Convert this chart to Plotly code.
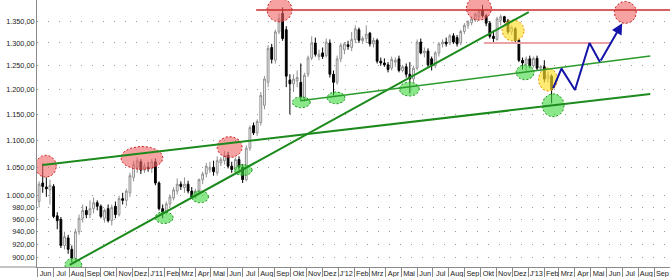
import numpy as np
import pandas as pd
import plotly.graph_objects as go

# ---------------- data (weekly candles, gold in EUR) ----------------
week_start = "2010-06-04"
opens = [990, 1022, 1015, 1010, 1016, 966, 960, 918, 930, 912,
         898, 940, 962, 975, 968, 978, 988, 982, 962, 978,
         958, 982, 968, 995, 992, 1005, 1032, 1050, 1060, 1045,
         1050, 1048, 1060, 1022, 978, 972, 986, 996, 1008, 1020,
         1014, 1020, 1008, 998, 1008, 1028, 1038, 1045, 1050, 1040,
         1058, 1062, 1072, 1052, 1046, 1064, 1050, 1028, 1085, 1128,
         1114, 1134, 1168, 1215, 1290, 1262, 1325, 1368, 1330, 1220,
         1212, 1218, 1215, 1182, 1232, 1267, 1300, 1270, 1278, 1272,
         1300, 1232, 1215, 1265, 1285, 1296, 1290, 1308, 1330, 1305,
         1310, 1322, 1298, 1306, 1260, 1256, 1252, 1245, 1258, 1265,
         1240, 1248, 1232, 1222, 1245, 1302, 1278, 1282, 1265, 1250,
         1278, 1298, 1302, 1300, 1316, 1312, 1300, 1326, 1340, 1346,
         1352, 1360, 1375, 1362, 1345, 1315, 1308, 1352, 1360, 1350,
         1325, 1332, 1306, 1262, 1254, 1265, 1250, 1266, 1245, 1248,
         1222, 1228]
highs = [1025, 1057, 1032, 1028, 1020, 972, 964, 940, 935, 918,
         945, 968, 985, 982, 992, 997, 992, 985, 978, 985,
         985, 990, 1000, 1005, 1012, 1040, 1062, 1068, 1065, 1058,
         1060, 1065, 1066, 1025, 985, 990, 1002, 1015, 1030, 1025,
         1032, 1026, 1015, 1012, 1030, 1042, 1058, 1060, 1062, 1070,
         1068, 1080, 1078, 1060, 1068, 1070, 1056, 1090, 1128, 1134,
         1140, 1195, 1228, 1295, 1298, 1330, 1368, 1382, 1338, 1232,
         1232, 1240, 1255, 1235, 1272, 1315, 1312, 1285, 1290, 1310,
         1308, 1240, 1272, 1300, 1302, 1305, 1325, 1340, 1335, 1315,
         1340, 1325, 1312, 1310, 1268, 1266, 1258, 1270, 1268, 1272,
         1252, 1255, 1258, 1250, 1308, 1310, 1290, 1288, 1270, 1282,
         1302, 1308, 1312, 1320, 1322, 1318, 1330, 1345, 1352, 1360,
         1370, 1378, 1388, 1366, 1350, 1328, 1360, 1365, 1362, 1355,
         1340, 1336, 1310, 1268, 1270, 1272, 1270, 1272, 1252, 1262,
         1238, 1232]
lows = [980, 1005, 998, 985, 962, 944, 914, 912, 905, 892,
        895, 935, 955, 962, 962, 970, 975, 962, 955, 955,
        950, 962, 965, 985, 982, 998, 1025, 1040, 1038, 1040,
        1042, 1040, 1018, 975, 962, 968, 980, 992, 1002, 1010,
        1005, 1004, 995, 995, 1002, 1020, 1032, 1040, 1035, 1035,
        1052, 1055, 1048, 1040, 1042, 1045, 1022, 1025, 1080, 1110,
        1108, 1128, 1160, 1205, 1255, 1255, 1320, 1305, 1205, 1150,
        1195, 1205, 1178, 1175, 1226, 1262, 1270, 1262, 1265, 1268,
        1225, 1188, 1210, 1258, 1275, 1285, 1282, 1300, 1300, 1298,
        1300, 1292, 1290, 1255, 1250, 1248, 1236, 1240, 1248, 1236,
        1236, 1225, 1192, 1215, 1240, 1275, 1268, 1245, 1240, 1245,
        1270, 1290, 1292, 1295, 1298, 1292, 1295, 1320, 1332, 1340,
        1348, 1352, 1358, 1338, 1310, 1302, 1305, 1340, 1345, 1320,
        1318, 1300, 1258, 1242, 1238, 1245, 1246, 1240, 1238, 1215,
        1215, 1172]
closes = [1020, 1016, 1012, 1018, 965, 958, 918, 932, 912, 898,
          940, 962, 975, 968, 978, 988, 982, 965, 975, 958,
          980, 968, 995, 992, 1008, 1035, 1055, 1062, 1045, 1052,
          1048, 1060, 1022, 978, 972, 986, 998, 1010, 1020, 1016,
          1020, 1008, 998, 1008, 1028, 1038, 1052, 1050, 1042, 1062,
          1064, 1072, 1052, 1046, 1064, 1050, 1028, 1085, 1124, 1114,
          1136, 1188, 1222, 1288, 1264, 1325, 1355, 1310, 1228, 1212,
          1222, 1225, 1185, 1230, 1267, 1300, 1275, 1275, 1270, 1302,
          1232, 1215, 1265, 1295, 1298, 1292, 1308, 1332, 1306, 1310,
          1320, 1298, 1306, 1260, 1256, 1252, 1242, 1264, 1262, 1240,
          1248, 1232, 1222, 1245, 1302, 1278, 1282, 1252, 1250, 1278,
          1298, 1302, 1298, 1316, 1302, 1298, 1326, 1340, 1348, 1355,
          1366, 1372, 1362, 1345, 1315, 1310, 1355, 1360, 1348, 1325,
          1335, 1306, 1262, 1256, 1265, 1250, 1266, 1245, 1248, 1222,
          1230, 1200]

y_ticks = [900, 920, 940, 960, 980, 1000, 1050, 1100, 1150, 1200, 1250, 1300, 1350]
y_tick_labels = ["900,00", "920,00", "940,00", "960,00", "980,00", "1.000,00", "1.050,00",
                 "1.100,00", "1.150,00", "1.200,00", "1.250,00", "1.300,00", "1.350,00"]

month_first = "2010-06-01"
month_last = "2013-09-01"
month_labels = ["Jun", "Jul", "Aug", "Sep", "Okt", "Nov", "Dez",
                "J'11", "Feb", "Mrz", "Apr", "Mai", "Jun", "Jul", "Aug", "Sep", "Okt", "Nov", "Dez",
                "J'12", "Feb", "Mrz", "Apr", "Mai", "Jun", "Jul", "Aug", "Sep", "Okt", "Nov", "Dez",
                "J'13", "Feb", "Mrz", "Apr", "Mai", "Jun", "Jul", "Aug", "Sep"]

# analysis markup (date, price)
red_zone_dates = ["2010-06-17", "2010-12-19", "2011-06-06", "2011-09-10", "2012-09-28", "2013-07-07"]
red_zone_prices = [1052, 1067, 1087, 1376, 1380, 1370]
green_zone_dates = ["2010-08-09", "2011-01-31", "2011-04-10", "2011-07-02", "2011-10-22",
                    "2011-12-28", "2012-05-17", "2012-12-26", "2013-02-18"]
green_zone_prices = [888, 963, 998, 1045, 1174, 1183, 1201, 1236, 1168]
yellow_zone_dates = ["2012-12-03", "2013-02-08"]
yellow_zone_prices = [1328, 1221]

long_support_dates = ["2010-06-11", "2013-08-24"]
long_support_prices = [1054, 1191]
steep_support_dates = ["2010-08-02", "2013-01-02"]
steep_support_prices = [888, 1371]
mid_support_dates = ["2011-10-20", "2013-08-24"]
mid_support_prices = [1177, 1271]
resistance_dates = ["2011-07-27", "2013-10-01"]
resistance_prices = [1376, 1376]
target_level_dates = ["2012-10-08", "2013-06-06"]
target_level_prices = [1300, 1300]
forecast_dates = ["2013-02-18", "2013-03-06", "2013-04-01", "2013-04-29", "2013-05-19", "2013-07-01"]
forecast_prices = [1203, 1244, 1199, 1300, 1258, 1345]

# ---------------- styling / geometry ----------------
W, H = 670, 277
ML, MB = 37, 10
X0, X1 = "2010-05-31", "2013-10-01"
Y0, Y1 = 884.7, 1399.6
PX_PER_DAY = (W - ML) / (pd.Timestamp(X1) - pd.Timestamp(X0)).days
PX_PER_LOG = (H - MB) / (np.log10(Y1) - np.log10(Y0))

red_radii = [(10.5, 11), (21, 11.5), (12.5, 10.5), (12.5, 12), (12.5, 12), (11, 11)]
green_radii = [(8.5, 6.5), (9, 6), (8.5, 6), (9, 5.5), (9, 5.5), (9, 6), (10, 7), (9, 7.5), (11, 11.5)]
yellow_radii = [(11, 10.5), (9.5, 11.5)]

FONT = "Liberation Sans"
dates = pd.date_range(week_start, periods=len(closes), freq="7D")
month_ticks = pd.date_range(month_first, month_last, freq="MS")

fig = go.Figure()
fig.add_trace(go.Candlestick(
    x=dates, open=opens, high=highs, low=lows, close=closes,
    increasing=dict(line=dict(color="#8f8f8f", width=1), fillcolor="#ffffff"),
    decreasing=dict(line=dict(color="#000000", width=1), fillcolor="#000000"),
    whiskerwidth=0, hoverinfo="skip", showlegend=False))

theta = np.linspace(0, 2 * np.pi, 61)


def add_ellipse(date, price, rad, fill, border):
    c = pd.Timestamp(date)
    xs = [c + pd.Timedelta(days=float(rad[0] * np.cos(t) / PX_PER_DAY)) for t in theta]
    ys = [10 ** (np.log10(price) + rad[1] * np.sin(t) / PX_PER_LOG) for t in theta]
    fig.add_trace(go.Scatter(x=xs, y=ys, mode="lines", fill="toself", fillcolor=fill,
                             line=dict(color=border, width=1, dash="2px,2px"),
                             hoverinfo="skip", showlegend=False))


for d, p, r in zip(red_zone_dates, red_zone_prices, red_radii):
    add_ellipse(d, p, r, "rgba(240,100,100,0.6)", "#c81e1e")
for d, p, r in zip(green_zone_dates, green_zone_prices, green_radii):
    add_ellipse(d, p, r, "rgba(60,215,60,0.6)", "#1f8f1f")
for d, p, r in zip(yellow_zone_dates, yellow_zone_prices, yellow_radii):
    add_ellipse(d, p, r, "rgba(255,225,40,0.65)", "#f08c00")


def add_line(ds, ps, color, width):
    fig.add_trace(go.Scatter(x=ds, y=ps, mode="lines", line=dict(color=color, width=width),
                             hoverinfo="skip", showlegend=False))


add_line(resistance_dates, resistance_prices, "#cc2b2b", 1.5)
add_line(target_level_dates, target_level_prices, "#eba3a8", 2)
add_line(long_support_dates, long_support_prices, "#1c8a1c", 2)
add_line(steep_support_dates, steep_support_prices, "#1c8a1c", 2)
add_line(mid_support_dates, mid_support_prices, "#2a9a2a", 1.5)
add_line(forecast_dates[:-1], forecast_prices[:-1], "#1414a8", 2)

# grey baseline continuing left under the price labels
shapes = [dict(type="line", xref="paper", yref="paper", x0=-ML / (W - ML), x1=0, y0=0, y1=0,
               line=dict(color="#8a8a8a", width=1))]

annotations = [dict(x=forecast_dates[-1], y=np.log10(forecast_prices[-1]),
                    ax=forecast_dates[-2], ay=np.log10(forecast_prices[-2]),
                    xref="x", yref="y", axref="x", ayref="y", text="", showarrow=True,
                    arrowhead=2, arrowsize=1.1, arrowwidth=2, arrowcolor="#1414a8", standoff=0)]

fig.update_layout(
    width=W, height=H, margin=dict(l=ML, r=0, t=0, b=MB),
    paper_bgcolor="white", plot_bgcolor="white", showlegend=False,
    shapes=shapes, annotations=annotations,
    xaxis=dict(type="date", range=[X0, X1], rangeslider=dict(visible=False),
               tickmode="array", tickvals=month_ticks, ticktext=month_labels, tickangle=0,
               ticks="outside", ticklen=10, tickwidth=1, tickcolor="#8a8a8a",
               showgrid=False, showline=True, linecolor="#8a8a8a", linewidth=1,
               zeroline=False, ticklabelshift=8, ticklabelstandoff=-11,
               tickfont=dict(family=FONT, size=7.3, color="#222222")),
    yaxis=dict(type="log", range=[np.log10(Y0), np.log10(Y1)],
               tickmode="array", tickvals=y_ticks, ticktext=y_tick_labels,
               ticks="", showgrid=True, gridcolor="#9a9a9a", griddash="1px,10px", gridwidth=1,
               showline=True, linecolor="#8a8a8a", linewidth=1, zeroline=False,
               tickfont=dict(family=FONT, size=7.3, color="#222222")),
)

fig.write_html("out.html", config={"displayModeBar": False})
